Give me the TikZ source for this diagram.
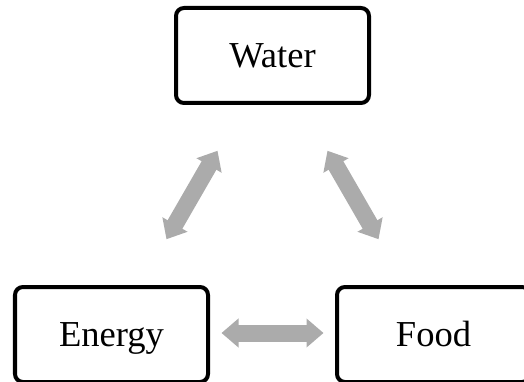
\documentclass[tikz,border=0pt]{standalone}
\usepackage{fontspec}
\setmainfont{Liberation Serif}
\usepackage{tikz}
\usetikzlibrary{arrows.meta}
\definecolor{arrowGray}{HTML}{ABABAB}
\tikzstyle{nexusBox} = [draw, line width=0.08cm, rounded corners=0.16cm, minimum width=3.86cm, minimum height=1.90cm, text height=14pt, text depth=0pt, font=\fontsize{20.8}{25}\selectfont]
\tikzstyle{dblArrow} = [arrowGray, line width=0.34cm, {Triangle[length=0.34cm,width=0.56cm]}-{Triangle[length=0.34cm,width=0.56cm]}, shorten <=2.2cm, shorten >=2.2cm]

\begin{document}
\begin{tikzpicture}
				\useasboundingbox (0,0) rectangle (10.48,7.62);
				\node[nexusBox] (water) at (5.45,6.51) {Water};
				\node[nexusBox] (energy) at (2.23,0.93) {Energy};
				\node[nexusBox] (food) at (8.67,0.93) {Food};
				\draw[dblArrow] (energy.center) -- (water.center);
				\draw[dblArrow] (water.center) -- (food.center);
				\draw[dblArrow] ([yshift=0.03cm]energy.center) -- ([yshift=0.03cm]food.center);
				\end{tikzpicture}
\end{document}
